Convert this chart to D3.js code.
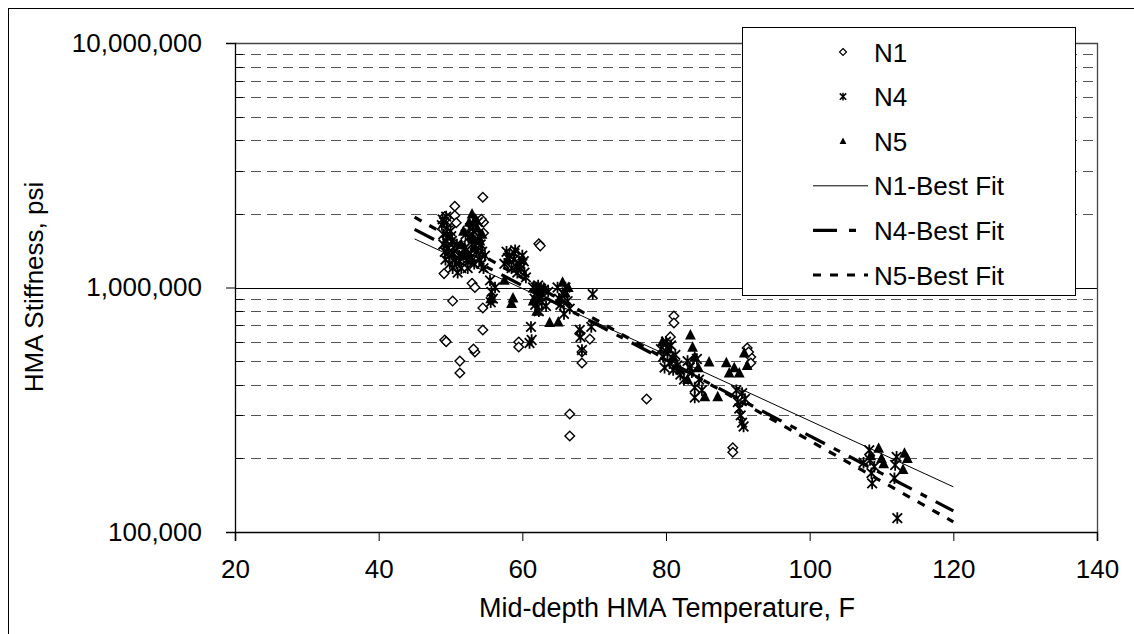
<!DOCTYPE html>
<html><head><meta charset="utf-8">
<script src="https://cdn.jsdelivr.net/npm/d3@7/dist/d3.min.js"></script>
<style>body{margin:0;background:#fff}svg{display:block;font-family:"Liberation Sans",Arial,sans-serif}</style>
</head><body><svg id="c" width="1134" height="634"></svg>
<script>
// ---- data ----
const xTicks = [20, 40, 60, 80, 100, 120, 140];
const yMajorTicks = [100000, 1000000, 10000000];
const yTickLabels = ["100,000", "1,000,000", "10,000,000"];
const seriesNames = ["N1", "N4", "N5", "N1-Best Fit", "N4-Best Fit", "N5-Best Fit"];

const n1 = [[49.2,1950000],[49.6,1900000],[50.2,1850000],[50.6,2150000],[50.6,1970000],[50.8,1840000],[49.1,1140000],[49.2,610000],[49.4,600000],[50.3,880000],[51.3,500000],[51.3,447000],[53.0,1040000],[53.4,1000000],[53.4,545000],[53.2,560000],[54.5,2340000],[54.6,1850000],[54.6,1670000],[54.3,1900000],[54.5,825000],[54.5,670000],[59.5,598000],[59.5,571000],[62.3,1510000],[62.5,1480000],[66.6,304000],[66.6,247000],[68.3,491000],[68.3,545000],[69.4,615000],[68.0,650000],[77.3,350000],[80.6,628000],[81.1,764000],[81.1,716000],[89.3,221000],[89.3,212000],[91.3,566000],[91.8,520000],[91.8,491000],[91.5,545000]];

const n4 = [[48.8,1800000],[49.0,1650000],[49.0,1500000],[49.2,1400000],[49.3,1300000],[49.4,1950000],[49.5,1750000],[49.6,1600000],[49.7,1450000],[49.8,1350000],[49.9,1250000],[50.0,1700000],[50.2,1550000],[50.3,1200000],[50.5,1450000],[50.6,1300000],[50.8,1250000],[51.0,1150000],[51.2,1350000],[51.5,1200000],
[48.9,1900000],[49.1,1850000],[49.4,1550000],[49.6,1380000],[50.1,1620000],[50.4,1380000],[50.9,1500000],[51.3,1280000],
[52.0,1450000],[52.3,1300000],[52.5,1600000],[52.7,1750000],[53.0,1500000],[53.2,1700000],[53.3,1250000],[53.5,1550000],[53.6,1400000],[53.8,1850000],[54.0,1300000],[54.2,1500000],[54.4,1400000],[54.6,1200000],[54.8,1350000],
[52.1,1650000],[52.8,1380000],[53.1,1820000],[53.9,1620000],[54.3,1250000],[52.4,1200000],
[55.5,1070000],[55.7,960000],[55.6,870000],[55.9,900000],[56.2,1000000],
[57.5,1250000],[57.8,1400000],[58.2,1350000],[58.5,1200000],[58.8,1300000],[59.0,1420000],[59.3,1150000],[59.6,1250000],[60.0,1350000],[60.3,1150000],[60.5,1100000],
[58.0,1320000],[58.9,1380000],[59.8,1200000],[60.2,1280000],
[61.0,593000],[61.2,690000],[61.3,610000],[61.5,1000000],[61.7,900000],[61.8,850000],[62.0,950000],[62.2,1020000],[62.3,800000],[62.5,920000],[62.7,870000],[63.0,980000],[63.3,840000],[63.6,960000],
[62.1,880000],[62.6,990000],[61.9,1000000],
[64.9,1000000],[65.1,900000],[65.3,850000],[65.6,950000],[65.8,780000],[66.0,1000000],[66.3,880000],[66.6,820000],
[68.0,670000],[68.1,627000],[68.3,555000],[69.6,690000],[69.8,940000],
[79.3,560000],[79.6,520000],[79.8,470000],[80.0,600000],[80.2,540000],[80.5,490000],[80.7,580000],[81.0,460000],[81.3,530000],[81.6,480000],[82.0,440000],[82.5,420000],[83.0,500000],[83.3,470000],[83.6,450000],[84.0,390000],[84.3,510000],[84.6,420000],[84.0,355000],[85.0,380000],
[89.8,380000],[90.0,340000],[90.2,320000],[90.4,300000],[90.6,280000],[90.8,270000],[91.0,350000],[90.6,370000],
[107.5,192000],[108.3,216000],[108.4,197000],[108.6,174000],[108.7,158000],[109.0,185000],[112.1,203000],[111.9,188000],[111.8,166000],[112.2,114000]];

const n5 = [[51.5,1500000],[51.8,1700000],[52.2,1400000],[52.6,1850000],[53.0,2000000],[53.1,1600000],[53.4,1450000],[53.7,1750000],[54.1,1550000],[54.4,1650000],
[51.7,1350000],[52.9,1300000],[53.5,1900000],
[55.6,900000],[57.5,1070000],[58.0,1300000],[58.7,906000],[58.5,860000],[59.2,1200000],[60.0,1300000],
[61.5,880000],[62.0,800000],[62.5,950000],[63.0,1000000],[63.8,720000],[65.0,722000],[65.2,900000],[65.6,1050000],[66.0,950000],[66.4,1000000],
[79.5,600000],[80.2,560000],[81.0,520000],[81.5,480000],[82.0,460000],[83.0,420000],[83.4,640000],[83.7,570000],[84.0,520000],[84.5,470000],[85.4,357000],[86.0,496000],[87.2,357000],[88.4,492000],[88.8,447000],[89.5,470000],[90.2,447000],[90.9,540000],[91.3,480000],
[108.5,205000],[109.6,220000],[110.0,200000],[110.3,190000],[113.2,210000],[113.0,180000],[113.6,200000]];

const fitT = [45, 120];
const fitN1 = [1580000, 153000];
const fitN4 = [1730000, 122000];
const fitN5 = [1940000, 110000];

// ---- drawing ----
const svg = d3.select("#c");
const L = 235, R = 1097, T = 43, B = 532;
const x = d3.scaleLinear().domain([20, 140]).range([L, R]);
const y = d3.scaleLog().domain([100000, 10000000]).range([B, T]);
const FS = 26;

// outer border
svg.append("rect").attr("x", 8.5).attr("y", 8.5).attr("width", 1140).attr("height", 640)
  .attr("fill", "none").attr("stroke", "#000").attr("stroke-width", 1);

// minor gridlines (dashed)
const minor = [];
[100000, 1000000].forEach(b => { for (let k = 2; k <= 9; k++) minor.push(b * k); });
svg.append("g").selectAll("line").data(minor).join("line")
  .attr("x1", L).attr("x2", R).attr("y1", d => Math.round(y(d)) + 0.5).attr("y2", d => Math.round(y(d)) + 0.5)
  .attr("stroke", "#555").attr("stroke-width", 1).attr("stroke-dasharray", "10,6");
svg.append("g").selectAll("line").data(minor).join("line")
  .attr("x1", L).attr("x2", L + 8).attr("y1", d => Math.round(y(d)) + 0.5).attr("y2", d => Math.round(y(d)) + 0.5)
  .attr("stroke", "#000");
svg.append("line").attr("x1", L).attr("x2", R).attr("y1", Math.round(y(1000000)) + 0.5).attr("y2", Math.round(y(1000000)) + 0.5)
  .attr("stroke", "#000").attr("stroke-width", 1);
svg.append("path").attr("d", `M${L},${T + 0.5}H${R + 0.5}V${B}`).attr("fill", "none").attr("stroke", "#444").attr("stroke-width", 1.3);

// y axis
const yAxis = d3.axisLeft(y).tickValues(yMajorTicks).tickSize(9).tickPadding(24)
  .tickFormat((d, i) => yTickLabels[i]);
const gy = svg.append("g").attr("transform", `translate(${L},0)`).call(yAxis);
gy.select(".domain").attr("stroke", "#000").attr("stroke-width", 1.3);
gy.selectAll("text").attr("font-size", FS).attr("fill", "#000").attr("font-family", "Liberation Sans, Arial, sans-serif");

// x axis
const xAxis = d3.axisBottom(x).tickValues(xTicks).tickSize(9).tickPadding(19).tickFormat(d3.format("d"));
const gx = svg.append("g").attr("transform", `translate(0,${B})`).call(xAxis);
gx.select(".domain").attr("stroke", "#000").attr("stroke-width", 1.6);
gx.selectAll("text").attr("font-size", FS).attr("fill", "#000").attr("font-family", "Liberation Sans, Arial, sans-serif");

// axis titles
svg.append("text").attr("x", 667).attr("y", 617).attr("text-anchor", "middle").attr("font-size", 27).text("Mid-depth HMA Temperature, F");
svg.append("text").attr("transform", "translate(43,287) rotate(-90)").attr("text-anchor", "middle").attr("font-size", FS).text("HMA Stiffness, psi");

// markers
const diamond = r => `M0,${-r}L${r},0L0,${r}L${-r},0Z`;
const star = r => `M${-r},${-r}L${r},${r}M${-r},${r}L${r},${-r}M0,${-r * 1.2}L0,${r * 1.2}`;
const tri = r => `M0,${-r}L${r * 0.9},${r * 0.75}L${-r * 0.9},${r * 0.75}Z`;

const plot = svg.append("g");
plot.append("g").selectAll("path").data(n1).join("path")
  .attr("transform", d => `translate(${x(d[0])},${y(d[1])})`).attr("d", diamond(4.8))
  .attr("fill", "#fff").attr("stroke", "#000").attr("stroke-width", 1.4);
plot.append("g").selectAll("path").data(n4).join("path")
  .attr("transform", d => `translate(${x(d[0])},${y(d[1])})`).attr("d", star(4.8))
  .attr("fill", "none").attr("stroke", "#000").attr("stroke-width", 1.8);
plot.append("g").selectAll("path").data(n5).join("path")
  .attr("transform", d => `translate(${x(d[0])},${y(d[1])})`).attr("d", tri(6))
  .attr("fill", "#000");

// fit lines
const line = d3.line().x(d => x(d[0])).y(d => y(d[1]));
const fits = [
  { v: fitN1, w: 1, dash: null },
  { v: fitN4, w: 3.2, dash: "22,10,7,10" },
  { v: fitN5, w: 3.2, dash: "8,9" }
];
fits.forEach(f => {
  plot.append("path").datum(fitT.map((t, i) => [t, f.v[i]])).attr("d", line)
    .attr("fill", "none").attr("stroke", "#000").attr("stroke-width", f.w)
    .attr("stroke-dasharray", f.dash);
});

// legend
const lg = svg.append("g");
lg.append("rect").attr("x", 742.5).attr("y", 27.5).attr("width", 333).attr("height", 268)
  .attr("fill", "#fff").attr("stroke", "#000").attr("stroke-width", 1);
const rowY = i => 52 + i * 44.6;
seriesNames.forEach((name, i) => {
  const cy = rowY(i);
  lg.append("text").attr("x", 874).attr("y", cy + 9.5).attr("font-size", FS).text(name);
  if (i === 0) lg.append("path").attr("transform", `translate(843,${cy})`).attr("d", diamond(3.5)).attr("fill", "#fff").attr("stroke", "#000").attr("stroke-width", 1.2);
  if (i === 1) lg.append("path").attr("transform", `translate(843,${cy})`).attr("d", star(3.2)).attr("fill", "none").attr("stroke", "#000").attr("stroke-width", 1.5);
  if (i === 2) lg.append("path").attr("transform", `translate(843,${cy})`).attr("d", tri(3.8)).attr("fill", "#000");
  if (i >= 3) {
    const f = fits[i - 3];
    lg.append("line").attr("x1", 813).attr("x2", 868).attr("y1", cy).attr("y2", cy)
      .attr("stroke", "#000").attr("stroke-width", f.w)
      .attr("stroke-dasharray", i === 4 ? "24,12,7,12" : f.dash);
  }
});
</script></body></html>
